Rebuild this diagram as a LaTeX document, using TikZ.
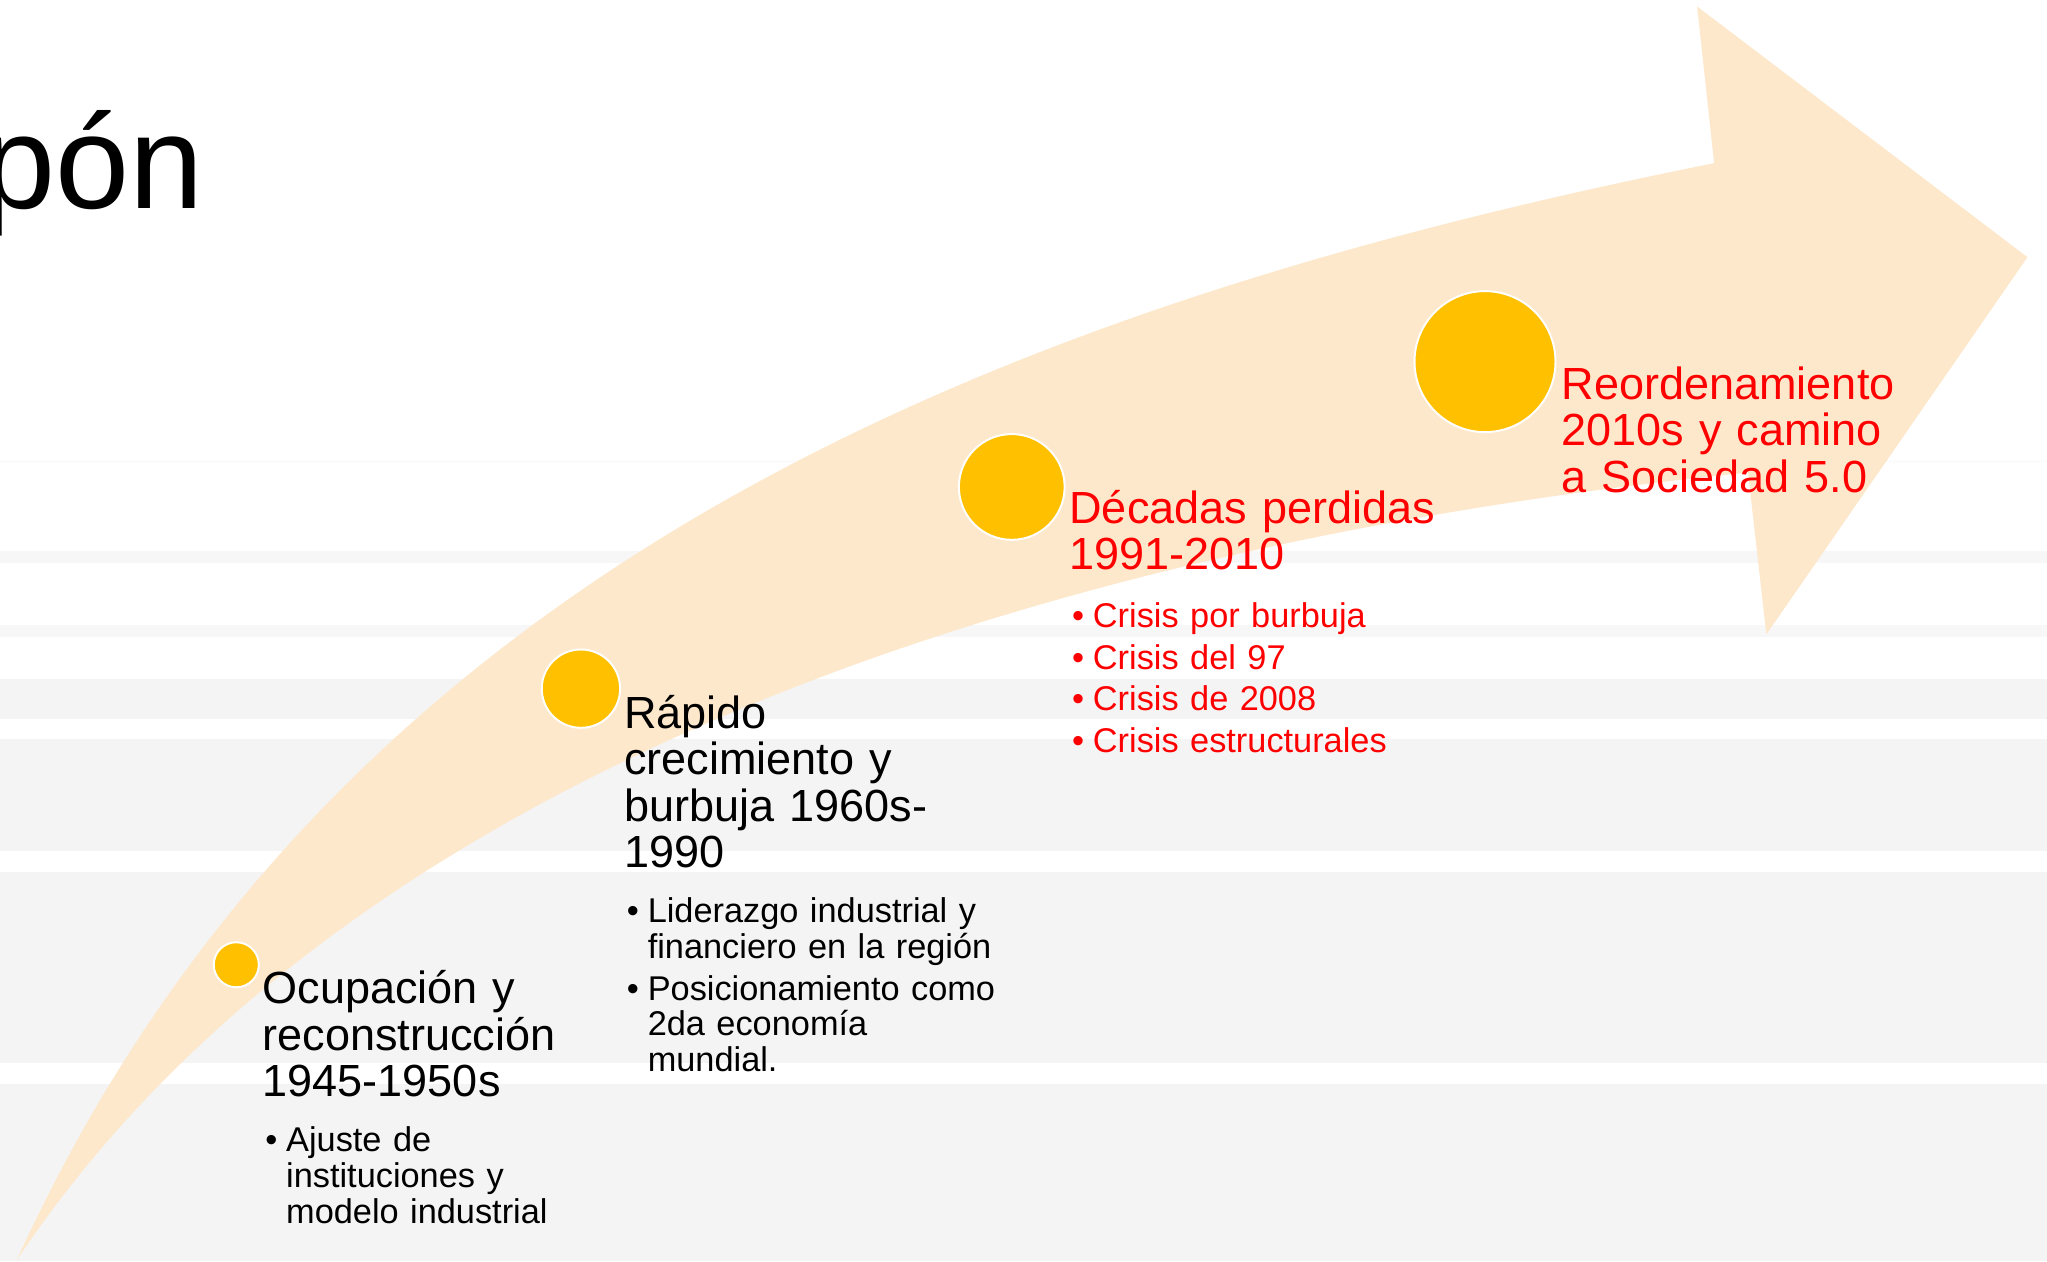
\documentclass[tikz,border=0pt]{standalone}
\usepackage{fontspec}
\setmainfont{Liberation Sans}
\definecolor{arrowfill}{RGB}{253,232,204}
\definecolor{dotfill}{RGB}{255,192,0}
\definecolor{bandA}{RGB}{244,244,244}
\definecolor{bandB}{RGB}{247,247,247}
\definecolor{bandC}{RGB}{252,252,252}
\definecolor{redtxt}{RGB}{255,0,0}
\newcommand\hdFont{\fontsize{34.5}{35.6}\selectfont}
\newcommand\btFont{\fontsize{26.3}{27.5}\selectfont}
\newcommand\ttlFont{\fontsize{102}{110}\selectfont}
\newcommand\bul{\makebox[16pt][l]{•}}
\newcommand\ind{\hspace*{16pt}}
\begin{document}
\begin{tikzpicture}[x=1pt,y=-1pt,
  dot/.style={circle,fill=dotfill,draw=white,line width=1.5pt,inner sep=0pt},
  head/.style={anchor=base west,inner sep=0pt,text width=420pt,align=left,font=\hdFont},
  blist/.style={anchor=base west,inner sep=0pt,text width=420pt,align=left,font=\btFont},
]
\useasboundingbox (0,0) rectangle (1568,966);
\fill[white] (0,0) rectangle (1568,966);
% background bands
\fill[bandC] (0,352) rectangle (1568,355);
\fill[bandB] (0,422) rectangle (1568,431);
\fill[bandB] (0,479) rectangle (1568,488);
\fill[bandA] (0,520) rectangle (1568,551);
\fill[bandA] (0,566) rectangle (1568,652);
\fill[bandA] (0,668) rectangle (1568,814);
\fill[bandA] (0,830) rectangle (1568,966);
% arrow
\coordinate (tail) at (13,965);
\coordinate (shoulderA) at (1313,125);
\coordinate (headtop) at (1300,5);
\coordinate (headtip) at (1553,197);
\coordinate (headbot) at (1353,486);
\coordinate (shoulderB) at (1339,362);
\fill[arrowfill] (tail) .. controls (253,437) and (763,235) .. (shoulderA)
  -- (headtop) -- (headtip) -- (headbot) -- (shoulderB)
  .. controls (889,407) and (288,552.5) .. (tail) -- cycle;
% title
\node[anchor=base east,inner sep=0pt,font=\ttlFont] (title) at (156,160) {pón};
% dots
\node[dot,minimum size=34.5pt] (c1) at (181,739) {};
\node[dot,minimum size=60pt] (c2) at (445,527.5) {};
\node[dot,minimum size=81pt] (c3) at (775,373) {};
\node[dot,minimum size=108pt] (c4) at (1137.5,277) {};
% texts
\node[head] (h1) at (201,769) {Ocupación y\\reconstrucción\\1945-1950s};
\node[blist] (b1) at (203,882) {\bul Ajuste de\\\ind instituciones y\\\ind modelo industrial};
\node[head] (h2) at (478,558) {Rápido\\crecimiento y\\burbuja 1960s-\\1990};
\node[blist] (b2) at (480,707) {\bul Liderazgo industrial y\\\ind financiero en la región};
\node[blist] (b2b) at (480,766) {\bul Posicionamiento como\\\ind 2da economía\\\ind mundial.};
\node[head,text=redtxt] (h3) at (819,401) {Décadas perdidas\\1991-2010};
\node[blist,text=redtxt] (b3a) at (821,481) {\bul Crisis por burbuja};
\node[blist,text=redtxt] (b3b) at (821,512.5) {\bul Crisis del 97};
\node[blist,text=redtxt] (b3c) at (821,544.5) {\bul Crisis de 2008};
\node[blist,text=redtxt] (b3d) at (821,576.5) {\bul Crisis estructurales};
\node[head,text=redtxt] (h4) at (1196,306) {Reordenamiento\\2010s y camino\\a Sociedad 5.0};
\end{tikzpicture}
\end{document}
